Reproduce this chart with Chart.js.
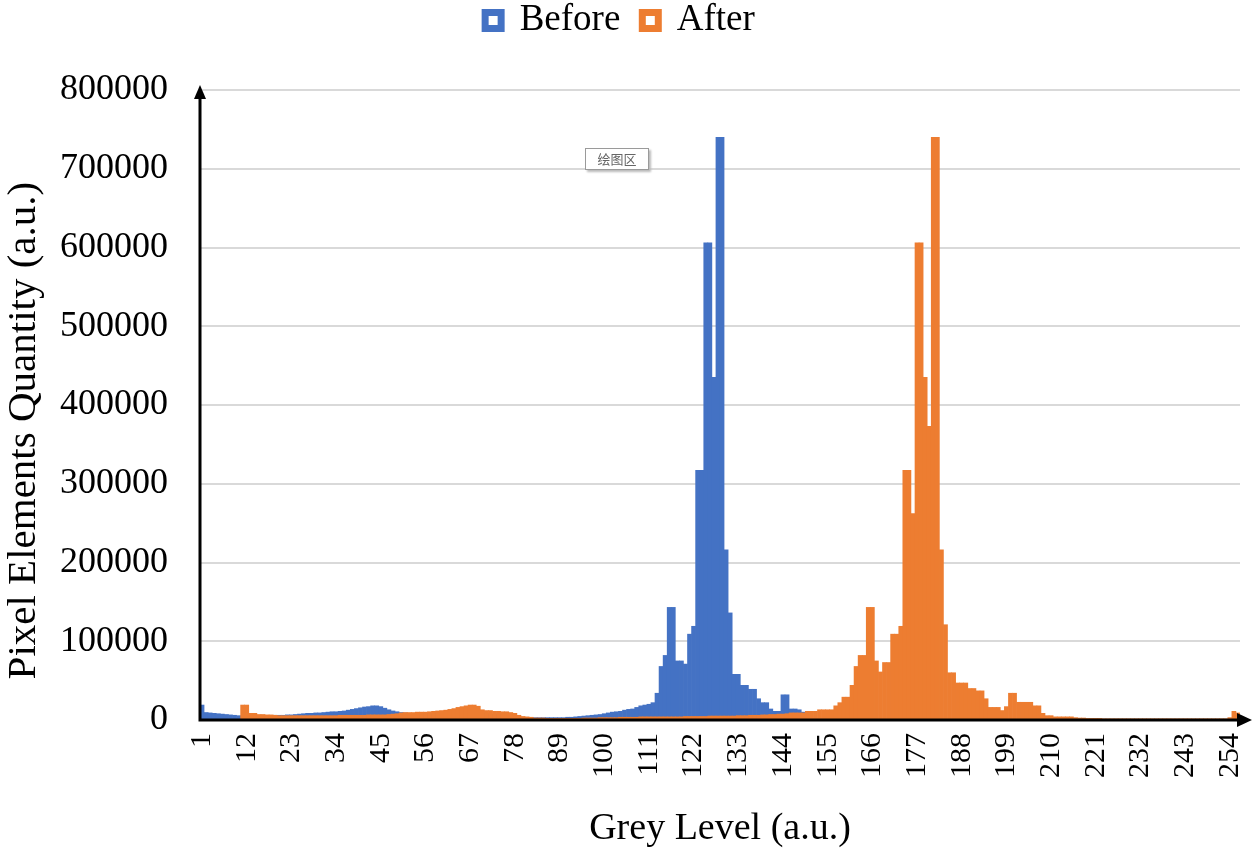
<!DOCTYPE html>
<html>
<head>
<meta charset="utf-8">
<script src="https://cdn.jsdelivr.net/npm/chart.js@4.4.1/dist/chart.umd.min.js"></script>
<style>
  html, body { margin: 0; padding: 0; background: #fff; }
  .wrap { position: relative; width: 1255px; height: 857px; }
  .tip {
    position: absolute; left: 585px; top: 148px; width: 62px; height: 20px;
    border: 1px solid #9a9a9a; background: #fff; box-shadow: 2px 2px 2px #bbb;
    font: 13px "Noto Sans CJK SC", sans-serif; color: #666; text-align: center; line-height: 20px;
  }
</style>
</head>
<body>
<div class="wrap">
  <canvas id="myChart1" width="1255" height="857"></canvas>
  <div class="tip">绘图区</div>
</div>
<script>
// grey levels 1..256
const greyLevels = Array.from({ length: 256 }, (_, i) => String(i + 1));
const tickLabels = ["1", "12", "23", "34", "45", "56", "67", "78", "89", "100", "111", "122",
  "133", "144", "155", "166", "177", "188", "199", "210", "221", "232", "243", "254"];

const before = [
  19000, 9500, 9000, 8500, 8000, 7500, 7000, 6500, 6000, 5500, 5000, 5000, 5000, 5000, 5000, 5500,
  5500, 5500, 6000, 6000, 6000, 6500, 6500, 7000, 7500, 8000, 8500, 8500, 9000, 9000, 9500, 10000,
  10500, 10500, 11000, 11500, 12500, 13500, 14500, 15500, 16500, 17000, 18000, 18000, 17000, 15000, 13000, 11500,
  10500, 9500, 9000, 8500, 8500, 8500, 8500, 8500, 8000, 8000, 8000, 8000, 8000, 8000, 8000, 8000,
  8000, 8000, 8000, 8000, 8000, 8000, 8000, 7500, 7500, 7000, 7000, 6500, 6000, 3500, 3000, 3000,
  3000, 3000, 3000, 3000, 3000, 3000, 3000, 3000, 3000, 3000, 3500, 3500, 4000, 4500, 5000, 5500,
  6000, 6500, 7000, 8000, 9000, 10000, 10500, 11000, 12500, 13500, 14000, 16000, 18000, 19000, 20000, 22000,
  34000, 68000, 82000, 143000, 143000, 75000, 75000, 71000, 109000, 119000, 317000, 317000, 606000, 606000, 435000, 740000,
  740000, 216000, 136000, 58000, 58000, 44000, 44000, 39000, 39000, 27000, 22000, 22000, 14000, 11000, 11000, 32000,
  32000, 14000, 14000, 13000, 10000, 3000, 2000, 2000, 2000, 2000, 2000, 2000, 1500, 1500, 1000, 1000,
  0, 0, 0, 0, 0, 0, 0, 0, 0, 0, 0, 0, 0, 0, 0, 0,
  0, 0, 0, 0, 0, 0, 0, 0, 0, 0, 0, 0, 0, 0, 0, 0,
  0, 0, 0, 0, 0, 0, 0, 0, 0, 0, 0, 0, 0, 0, 0, 0,
  0, 0, 0, 0, 0, 0, 0, 0, 0, 0, 0, 0, 0, 0, 0, 0,
  0, 0, 0, 0, 0, 0, 0, 0, 0, 0, 0, 0, 0, 0, 0, 0,
  0, 0, 0, 0, 0, 0, 0, 0, 0, 0, 0, 0, 0, 0, 0, 0
];

const after = [
  0, 0, 0, 0, 0, 0, 0, 0, 0, 0, 19000, 19000, 8500, 8500, 7000, 7000,
  6500, 6500, 6000, 5500, 5500, 5500, 5500, 5500, 5500, 5500, 5500, 5500, 5500, 5500, 5500, 5500,
  5500, 5500, 6000, 6000, 6000, 6000, 6000, 6000, 6000, 6500, 6500, 6500, 6500, 6500, 7000, 7500,
  8000, 9000, 9500, 9500, 9500, 10000, 10000, 10000, 10500, 11000, 11500, 12000, 12500, 13500, 14500, 16000,
  17000, 18000, 19000, 19000, 17500, 13000, 12000, 12000, 11000, 11000, 10500, 10500, 9500, 8500, 6000, 4500,
  4000, 3500, 2500, 2500, 2500, 2000, 2000, 2000, 2000, 2000, 2000, 2000, 2000, 2000, 2500, 2500,
  2500, 2500, 3000, 3000, 3000, 3000, 3000, 3500, 3500, 3500, 3500, 3500, 4000, 4000, 4000, 4000,
  4000, 4000, 4000, 4000, 4000, 4000, 4000, 4500, 4500, 4500, 4500, 4500, 4500, 5000, 5000, 5000,
  5000, 5000, 5000, 5000, 5500, 5500, 5500, 6000, 6000, 6000, 6500, 6500, 7000, 7000, 7500, 7500,
  8000, 9000, 9000, 9000, 9000, 11000, 11000, 11000, 13000, 13000, 13000, 13000, 18000, 22000, 29000, 29000,
  44000, 68000, 82000, 82000, 143000, 143000, 75000, 61000, 73000, 73000, 109000, 109000, 119000, 317000, 317000, 262000,
  606000, 606000, 435000, 373000, 740000, 740000, 216000, 121000, 60000, 60000, 47000, 47000, 47000, 40000, 40000, 37000,
  37000, 27000, 16000, 16000, 16000, 12000, 17000, 34000, 34000, 22500, 22500, 22500, 22500, 18000, 18000, 8500,
  5500, 5500, 4000, 4000, 4000, 4000, 4000, 3000, 2500, 2500, 2000, 2000, 2000, 2000, 1500, 1500,
  1500, 1500, 1500, 1500, 1500, 1500, 1500, 1500, 1500, 1500, 1500, 1500, 1500, 1500, 1500, 1500,
  1500, 1500, 1500, 1500, 1500, 1500, 1500, 1500, 1500, 1500, 1500, 1500, 1500, 3000, 11000, 9000
];

const serif = "'Liberation Serif', 'Times New Roman', serif";

// black axis lines with arrow heads
const axisArrows = {
  id: "axisArrows",
  afterDatasetsDraw(chart) {
    const { ctx, chartArea: a } = chart;
    ctx.save();
    ctx.strokeStyle = "#000";
    ctx.fillStyle = "#000";
    ctx.lineWidth = 3;
    ctx.beginPath();
    ctx.moveTo(a.left, a.bottom);
    ctx.lineTo(a.left, a.top + 4);
    ctx.moveTo(a.left - 1.5, a.bottom);
    ctx.lineTo(a.right + 2, a.bottom);
    ctx.stroke();
    ctx.beginPath();
    ctx.moveTo(a.left, a.top - 5);
    ctx.lineTo(a.left - 6, a.top + 9);
    ctx.lineTo(a.left + 6, a.top + 9);
    ctx.closePath();
    ctx.fill();
    ctx.beginPath();
    ctx.moveTo(a.right + 12, a.bottom);
    ctx.lineTo(a.right - 3, a.bottom - 7);
    ctx.lineTo(a.right - 3, a.bottom + 7);
    ctx.closePath();
    ctx.fill();
    ctx.restore();
  }
};

// leave room under the legend, like the original
const legendSpace = {
  id: "legendSpace",
  beforeInit(chart) {
    const fitLegend = chart.legend.fit;
    chart.legend.fit = function () {
      fitLegend.bind(chart.legend)();
      this.height = 110;
    };
  }
};

const ctx = document.getElementById("myChart1").getContext("2d");
const myChart = new Chart(ctx, {
  type: "bar",
  data: {
    labels: greyLevels,
    datasets: [
      {
        label: "Before",
        data: before,
        backgroundColor: "#4472C4",
        order: 1,
        grouped: false,
        barPercentage: 1,
        categoryPercentage: 1
      },
      {
        label: "After",
        data: after,
        backgroundColor: "#ED7D31",
        order: 0,
        grouped: false,
        barPercentage: 1,
        categoryPercentage: 1
      }
    ]
  },
  options: {
    responsive: false,
    animation: false,
    layout: { padding: { left: 0, right: 15, top: -20, bottom: 5 } },
    plugins: {
      tooltip: { enabled: false },
      legend: {
        position: "top",
        labels: {
          font: { family: serif, size: 37 },
          color: "#000",
          boxWidth: 16,
          boxHeight: 16,
          padding: 22,
          sort: (a, b) => a.datasetIndex - b.datasetIndex,
          generateLabels: (chart) =>
            chart.data.datasets.map((ds, i) => ({
              text: ds.label,
              fillStyle: "#fff",
              strokeStyle: ds.backgroundColor,
              lineWidth: 7,
              datasetIndex: i,
              hidden: false
            }))
        }
      }
    },
    scales: {
      x: {
        grid: { display: false, drawTicks: false },
        border: { display: false },
        ticks: {
          autoSkip: false,
          maxRotation: 90,
          minRotation: 90,
          padding: 13,
          color: "#000",
          font: { family: serif, size: 30 },
          callback: function (val, idx) {
            const lab = greyLevels[idx];
            return tickLabels.includes(lab) ? lab : "";
          }
        },
        title: {
          display: true,
          text: "Grey Level (a.u.)",
          color: "#000",
          font: { family: serif, size: 38 },
          padding: { top: 0, bottom: 0 }
        },
        afterFit: (scale) => {
          scale.height = 132;
          scale.paddingLeft = 0;
          scale.paddingRight = 0;
        }
      },
      y: {
        min: 0,
        max: 800000,
        grid: {
          drawTicks: false,
          lineWidth: 2,
          color: (c) => (c.tick && c.tick.value === 0 ? "rgba(0,0,0,0)" : "#d9d9d9")
        },
        border: { display: false },
        ticks: {
          stepSize: 100000,
          padding: 32,
          color: "#000",
          font: { family: serif, size: 36 },
          callback: (v) => String(v)
        },
        title: {
          display: true,
          text: "Pixel Elements Quantity (a.u.)\u00a0\u00a0\u00a0\u00a0\u00a0",
          color: "#000",
          font: { family: serif, size: 41 },
          padding: 0
        },
        afterFit: (scale) => {
          scale.width = 200;
          scale.paddingBottom = 0;
        }
      }
    }
  },
  plugins: [axisArrows, legendSpace]
});
</script>
</body>
</html>
